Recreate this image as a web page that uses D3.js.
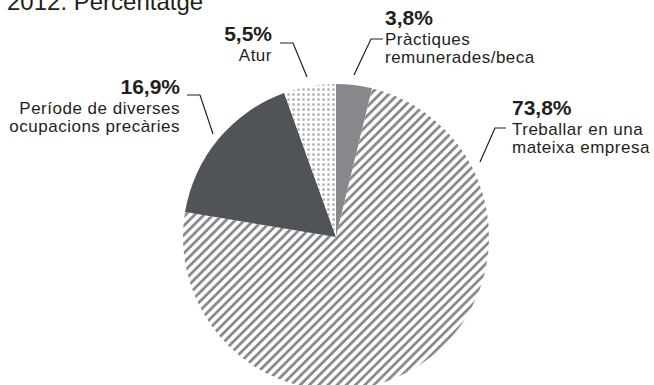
<!DOCTYPE html>
<html>
<head>
<meta charset="utf-8">
<script src="https://cdn.jsdelivr.net/npm/d3@7"></script>
<style>
  body { margin: 0; background: #fff; }
  svg { display: block; font-family: "Liberation Sans", Arial, sans-serif; }
  .pct { font-weight: bold; font-size: 21px; fill: #231f20; }
  .lbl { font-size: 17px; letter-spacing: 0.5px; fill: #231f20; }
</style>
</head>
<body>
<div id="chart"></div>
<script>
var title = "2012. Percentatge";
var categories = ["Pràctiques remunerades/beca", "Treballar en una mateixa empresa", "Període de diverses ocupacions precàries", "Atur"];
var values = [3.8, 73.8, 16.9, 5.5];
var valueLabels = ["3,8%", "73,8%", "16,9%", "5,5%"];
var labelLines = [["Pràctiques", "remunerades/beca"], ["Treballar en una", "mateixa empresa"], ["Període de diverses", "ocupacions precàries"], ["Atur"]];

var width = 654, height = 385;
var cx = 336, cy = 237, radius = 153;

var svg = d3.select("#chart").append("svg")
    .attr("width", width)
    .attr("height", height);

var defs = svg.append("defs");

var hatch = defs.append("pattern")
    .attr("id", "hatch")
    .attr("patternUnits", "userSpaceOnUse")
    .attr("width", 6.5)
    .attr("height", 6.5)
    .attr("patternTransform", "rotate(45)");
hatch.append("rect").attr("width", 6.5).attr("height", 6.5).attr("fill", "#fff");
hatch.append("rect").attr("width", 2.8).attr("height", 6.5).attr("fill", "#8a8b8d");

var dots = defs.append("pattern")
    .attr("id", "dots")
    .attr("patternUnits", "userSpaceOnUse")
    .attr("width", 5)
    .attr("height", 5);
dots.append("rect").attr("width", 5).attr("height", 5).attr("fill", "#fff");
dots.append("circle").attr("cx", 2.5).attr("cy", 2.5).attr("r", 1.5).attr("fill", "#b8b9bb");

var fills = ["#87888b", "url(#hatch)", "#505458", "url(#dots)"];

var pie = d3.pie().sort(null).value(function (d) { return d; });
var arc = d3.arc().innerRadius(0).outerRadius(radius);

var g = svg.append("g").attr("transform", "translate(" + cx + "," + cy + ")");

g.selectAll("path")
    .data(pie(values))
    .enter().append("path")
    .attr("d", arc)
    .attr("fill", function (d, i) { return fills[i]; });

// title (partly cut at top in the original)
svg.append("text")
    .attr("x", 7)
    .attr("y", 10)
    .attr("font-size", 24)
    .attr("fill", "#231f20")
    .text(title);

// label layout: text anchor point, alignment and leader line
var annot = [
    { x: 385, y: 25, anchor: "start", line: [[383, 39], [371, 39], [354, 75]] },
    { x: 512, y: 115, anchor: "start", line: [[506, 128], [495, 128], [480, 162]] },
    { x: 180, y: 94, anchor: "end", line: [[187, 95], [200, 95], [213, 134]] },
    { x: 272, y: 41, anchor: "end", line: [[280, 43], [293, 43], [307, 77]] }
];

var line = d3.line();

annot.forEach(function (a, i) {
    svg.append("path")
        .attr("d", line(a.line))
        .attr("fill", "none")
        .attr("stroke", "#231f20")
        .attr("stroke-width", 1.2);

    svg.append("text")
        .attr("class", "pct")
        .attr("x", a.x)
        .attr("y", a.y)
        .attr("text-anchor", a.anchor)
        .text(valueLabels[i]);

    labelLines[i].forEach(function (t, j) {
        svg.append("text")
            .attr("class", "lbl")
            .attr("x", a.x)
            .attr("y", a.y + 20 + j * 18)
            .attr("text-anchor", a.anchor)
            .text(t);
    });
});
</script>
</body>
</html>
